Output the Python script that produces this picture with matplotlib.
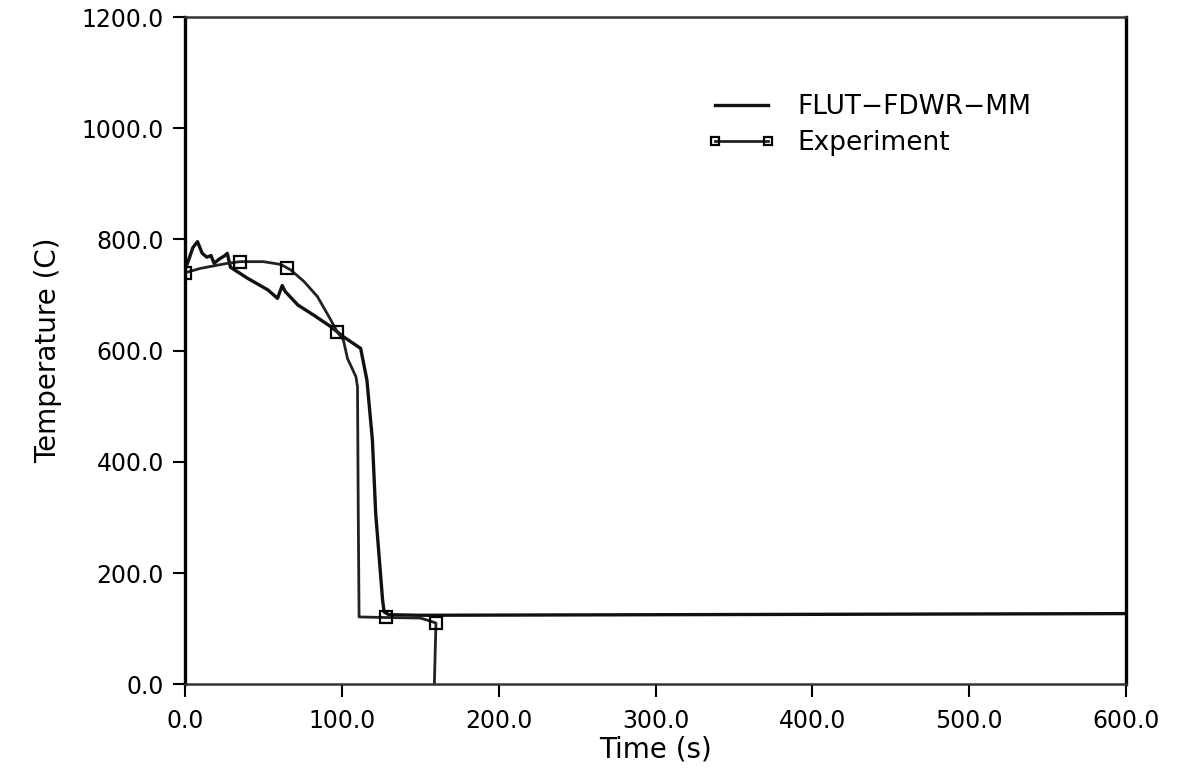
import matplotlib
matplotlib.use('Agg')
import matplotlib.pyplot as plt
from matplotlib.ticker import FormatStrFormatter

plt.rcParams['font.family'] = ['DejaVu Sans']

# FLUT-FDWR-MM calculation (spiky start, quench near 112-127 s, flat to 600 s)
sim_t = [0, 2, 5, 8, 11, 14, 16.6, 18.6, 22, 25, 27, 29, 40, 53, 59, 62, 64,
         72, 82, 93, 101, 112, 116, 119.5, 121.6, 126, 127, 130, 150, 600]
sim_T = [745, 760, 785, 796, 775, 768, 771, 757, 765, 770, 775, 750, 730, 709,
         694, 717, 706, 682, 664, 643, 625, 604, 547, 439, 307, 151, 130, 125,
         124, 127]

# Experiment
exp_t = [0, 10, 27, 35, 50, 61, 65, 67.5, 76, 84.5, 93, 97, 101, 103.6, 109,
         110, 110.5, 111, 128, 150, 156, 160, 159]
exp_T = [740, 748, 757, 760, 760, 755, 749, 745, 724, 697, 655, 634, 619, 586,
         553, 535, 300, 121, 120, 119, 114, 110, 0]
exp_marks = [0, 3, 6, 11, 18, 21]

fig = plt.figure(figsize=(11.78, 7.74), dpi=100)
ax = fig.add_axes([0.157, 0.116, 0.799, 0.862])

ax.plot(sim_t, sim_T, color='#111111', linewidth=2.4, label='FLUT\u2212FDWR\u2212MM')
ax.plot(exp_t, exp_T, color='#222222', linewidth=2.0, marker='s', markersize=8,
        markerfacecolor='none', markeredgecolor='black', markeredgewidth=1.6,
        markevery=exp_marks, label='Experiment')

ax.set_xlim(0, 600)
ax.set_ylim(0, 1200)
ax.set_xticks(range(0, 601, 100))
ax.set_yticks(range(0, 1201, 200))
ax.xaxis.set_major_formatter(FormatStrFormatter('%.1f'))
ax.yaxis.set_major_formatter(FormatStrFormatter('%.1f'))
ax.tick_params(direction='out', length=9, width=1.5, labelsize=17, pad=6)
ax.tick_params(axis='x', pad=9)

for side in ['left', 'right']:
    ax.spines[side].set_linewidth(2.4)
for side in ['top', 'bottom']:
    ax.spines[side].set_linewidth(1.8)
    ax.spines[side].set_color('#333333')

ax.set_xlabel('Time (s)', fontsize=20, labelpad=2)
ax.set_ylabel('Temperature (C)', fontsize=20, labelpad=14)

ax.legend(loc='upper left', bbox_to_anchor=(0.555, 0.885), frameon=False,
          fontsize=19, numpoints=2, markerscale=0.75, handlelength=2.6,
          handletextpad=0.8, labelspacing=0.4, borderpad=0, borderaxespad=0)

plt.savefig('out.png', dpi=100, facecolor='white')
plt.close()
